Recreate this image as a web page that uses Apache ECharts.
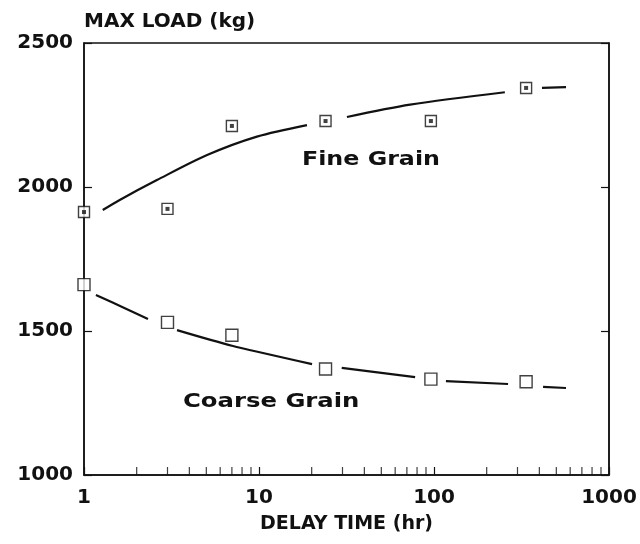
<!DOCTYPE html>
<html>
<head>
<meta charset="utf-8">
<script src="https://cdn.jsdelivr.net/npm/echarts@6/dist/echarts.min.js"></script>
<style>
  html, body { margin: 0; padding: 0; background: #fff; }
  #chart { width: 640px; height: 544px; }
</style>
</head>
<body>
<div id="chart"></div>
<script>
// measured points
var delayHours = [1, 3, 7, 24, 96, 336];
var fineLoad = [1913, 1924, 2212, 2229, 2229, 2344];
var coarseLoad = [1661, 1530, 1485, 1368, 1333, 1324];

// fitted curves (null = gap around a marker)
var fineCurveX = [1.28, 1.6, 2.61, 5.05, 9.73, 18.8, null, 31.8, 73, 254, null, 414, 568];
var fineCurveY = [1920, 1955, 2024, 2111, 2175, 2215, null, 2243, 2286, 2329, null, 2344, 2347];
var coarseCurveX = [1.17, 1.7, 2.32, null, 3.4, 7.1, 20.1, null, 29.7, 78, null, 117, 265, null, 420, 568];
var coarseCurveY = [1625, 1580, 1542, null, 1503, 1448, 1385, null, 1372, 1340, null, 1326, 1316, null, 1306, 1302];

var minorTicks = [2, 3, 4, 5, 6, 7, 8, 9, 20, 30, 40, 50, 60, 70, 80, 90, 200, 300, 400, 500, 600, 700, 800, 900];

var ink = '#111';
var font = '"DejaVu Sans", Arial, sans-serif';

function pairs(xs, ys) {
    return xs.map(function (x, i) {
        return x == null ? [null, null] : [x, ys[i]];
    });
}

var myChart = echarts.init(document.getElementById('chart'), null, { renderer: 'canvas' });

myChart.setOption({
    animation: false,
    backgroundColor: '#fff',
    grid: { left: 84, right: 31, top: 43, bottom: 69, show: true, borderColor: ink, borderWidth: 1.5 },
    xAxis: [{
        type: 'log',
        logBase: 10,
        min: 1,
        max: 1000,
        name: 'DELAY TIME (hr)',
        nameLocation: 'middle',
        nameGap: 40,
        nameTextStyle: { color: ink, fontFamily: font, fontWeight: 'bold', fontSize: 19 },
        axisLine: { lineStyle: { color: ink, width: 1.5 } },
        axisTick: { inside: true, length: 8, lineStyle: { color: ink, width: 1.2 } },
        axisLabel: {
            color: ink, fontFamily: font, fontWeight: 'bold', fontSize: 20, margin: 13,
            formatter: function (v) { return String(v); }
        },
        splitLine: { show: false }
    }],
    yAxis: [{
        type: 'value',
        min: 1000,
        max: 2500,
        interval: 500,
        name: 'MAX LOAD (kg)',
        nameLocation: 'end',
        nameGap: 21,
        nameTextStyle: { color: ink, fontFamily: font, fontWeight: 'bold', fontSize: 20, align: 'left', verticalAlign: 'middle' },
        axisLine: { show: true, lineStyle: { color: ink, width: 1.5 } },
        axisTick: { show: true, inside: true, length: 8, lineStyle: { color: ink, width: 1.2 } },
        axisLabel: {
            color: ink, fontFamily: font, fontWeight: 'bold', fontSize: 20, margin: 11,
            formatter: function (v) { return String(v); }
        },
        splitLine: { show: false }
    }, {
        type: 'value',
        position: 'right',
        min: 1000,
        max: 2500,
        interval: 500,
        axisLine: { show: true, lineStyle: { color: ink, width: 1.5 } },
        axisTick: { show: true, inside: true, length: 8, lineStyle: { color: ink, width: 1.2 } },
        axisLabel: { show: false },
        splitLine: { show: false }
    }],
    series: [
        {
            name: 'Fine fit',
            type: 'line',
            data: pairs(fineCurveX, fineCurveY),
            smooth: 0.3,
            connectNulls: false,
            showSymbol: false,
            lineStyle: { color: ink, width: 2.2 }
        },
        {
            name: 'Coarse fit',
            type: 'line',
            data: pairs(coarseCurveX, coarseCurveY),
            smooth: 0.3,
            connectNulls: false,
            showSymbol: false,
            lineStyle: { color: ink, width: 2.2 }
        },
        {
            name: 'Fine Grain',
            type: 'scatter',
            data: pairs(delayHours, fineLoad),
            symbol: 'rect',
            symbolSize: 11,
            clip: false,
            itemStyle: { color: '#fff', borderColor: ink, borderWidth: 1.4 },
            z: 3
        },
        {
            name: 'Fine dot',
            type: 'scatter',
            data: pairs(delayHours, fineLoad),
            symbol: 'rect',
            symbolSize: 4,
            clip: false,
            itemStyle: { color: ink },
            z: 4
        },
        {
            name: 'Coarse Grain',
            type: 'scatter',
            data: pairs(delayHours, coarseLoad),
            symbol: 'rect',
            symbolSize: 12,
            clip: false,
            itemStyle: { color: '#fff', borderColor: ink, borderWidth: 1.4 },
            z: 3
        },
        {
            // log minor ticks along the bottom axis
            name: 'minor ticks',
            type: 'scatter',
            data: minorTicks.map(function (v) { return [v, 1000]; }),
            symbol: 'rect',
            symbolSize: [1.2, 8],
            symbolOffset: [0, -4],
            clip: false,
            silent: true,
            itemStyle: { color: ink },
            z: 5
        }
    ],
    graphic: [
        {
            type: 'text',
            x: 302,
            y: 160,
            scaleX: 1.25,
            style: { text: 'Fine Grain', font: 'bold 19px ' + font, fill: ink, verticalAlign: 'middle' }
        },
        {
            type: 'text',
            x: 183,
            y: 402,
            scaleX: 1.28,
            style: { text: 'Coarse Grain', font: 'bold 19px ' + font, fill: ink, verticalAlign: 'middle' }
        }
    ]
});
</script>
</body>
</html>
